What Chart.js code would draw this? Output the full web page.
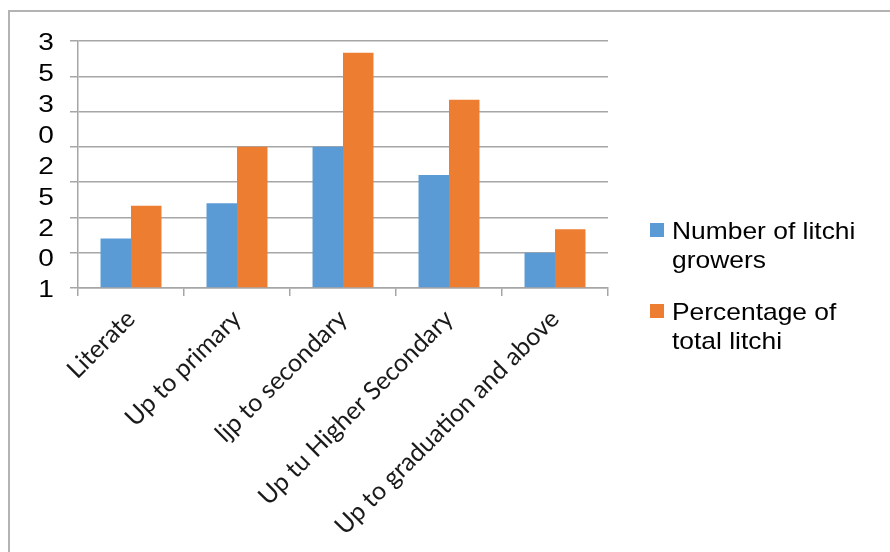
<!DOCTYPE html>
<html>
<head>
<meta charset="utf-8">
<script src="https://cdn.jsdelivr.net/npm/chart.js@4.4.1/dist/chart.umd.min.js"></script>
<style>
  html, body { margin: 0; padding: 0; background: #fff; }
  #wrap { position: relative; width: 890px; height: 552px; }
</style>
</head>
<body>
<div id="wrap"><canvas id="chart" width="890" height="552"></canvas></div>
<script>
// education level categories
const categories = ["Literate", "Up to primary", "ljp to secondary", "Up tu Higher Secondary", "Up to graduation and above"];

// series values
const growers = [7, 12, 20, 16, 5];
const percentOfTotal = [11.67, 20, 33.33, 26.67, 8.33];

// legend text, split the way the picture wraps it
const growersName = ["Number of litchi", "growers"];
const percentName = ["Percentage of", "total litchi"];

// the (garbled) y tick labels as they appear
const yTickChars = ["3", "5", "3", "0", "2", "5", "2", "0", "1"];

const gridGray = "#a6a6a6";

const paperPlugin = {
    id: "paper",
    beforeDraw(chart) {
        const ctx = chart.ctx;
        ctx.save();
        ctx.fillStyle = "#fff";
        ctx.fillRect(0, 0, chart.width, chart.height);
        // outer frame, only left and top edges are visible
        ctx.strokeStyle = "#b3b3b3";
        ctx.lineWidth = 2;
        ctx.beginPath();
        ctx.moveTo(9, chart.height);
        ctx.lineTo(9, 11);
        ctx.lineTo(chart.width, 11);
        ctx.stroke();
        ctx.restore();
    },
    afterDraw(chart) {
        const ctx = chart.ctx;
        // y labels, drawn a bit stretched like the source
        const sc = chart.scales.yl;
        ctx.save();
        ctx.font = '23px "Liberation Sans"';
        ctx.fillStyle = "#000";
        ctx.textAlign = "center";
        ctx.textBaseline = "middle";
        sc.ticks.forEach((t, i) => {
            const y = sc.getPixelForTick(i);
            ctx.save();
            ctx.translate(46, y + 3);
            ctx.scale(1.22, 1);
            ctx.fillText(sc.getLabelForValue(t.value), 0, 0);
            ctx.restore();
        });
        ctx.restore();

        // legend on the right
        const names = [growersName, percentName];
        ctx.save();
        ctx.font = '24px "Liberation Sans"';
        ctx.textBaseline = "alphabetic";
        ctx.textAlign = "left";
        chart.data.datasets.forEach((ds, i) => {
            const top = 223 + i * 81;
            ctx.fillStyle = ds.backgroundColor;
            ctx.fillRect(650, top, 14, 14);
            ctx.fillStyle = "#000";
            names[i].forEach((line, j) => {
                ctx.save();
                ctx.translate(672, top + 16 + j * 29);
                ctx.scale(1.1, 1);
                ctx.fillText(line, 0, 0);
                ctx.restore();
            });
        });
        ctx.restore();
    }
};

const ctx = document.getElementById("chart").getContext("2d");
new Chart(ctx, {
    type: "bar",
    data: {
        labels: categories,
        datasets: [
            {
                label: growersName.join(" "),
                data: growers,
                backgroundColor: "#5b9bd5",
                borderWidth: 0,
                categoryPercentage: 0.575,
                barPercentage: 1.0,
            },
            {
                label: percentName.join(" "),
                data: percentOfTotal,
                backgroundColor: "#ed7d31",
                borderWidth: 0,
                categoryPercentage: 0.575,
                barPercentage: 1.0,
            },
        ],
    },
    options: {
        responsive: false,
        devicePixelRatio: 1,
        animation: false,
        layout: { padding: { left: 0, top: 41, right: 282, bottom: 0 } },
        plugins: {
            legend: { display: false },
            tooltip: { enabled: false },
        },
        scales: {
            x: {
                grid: { offset: true, drawOnChartArea: false, drawTicks: true, tickLength: 8, color: gridGray, lineWidth: 1.5 },
                border: { color: gridGray, width: 1.5 },
                ticks: {
                    autoSkip: false,
                    minRotation: 45,
                    maxRotation: 45,
                    padding: 8,
                    color: "#1a1a1a",
                    font: { family: "Lato", size: 25 },
                },
                afterFit(s) { s.height = 264; },
            },
            y: {
                position: "left",
                weight: 0,
                min: 0,
                max: 35,
                ticks: { display: false, stepSize: 5 },
                grid: { color: gridGray, lineWidth: 1.5, tickLength: 8 },
                border: { color: gridGray, width: 1.5 },
                afterFit(s) { s.width = 8; },
            },
            yl: {
                type: "category",
                position: "left",
                weight: 1,
                labels: yTickChars,
                offset: false,
                grid: { display: false },
                border: { display: false },
                ticks: { display: false, autoSkip: false },
                afterFit(s) { s.width = 70; },
            },
        },
    },
    plugins: [paperPlugin],
});
</script>
</body>
</html>
